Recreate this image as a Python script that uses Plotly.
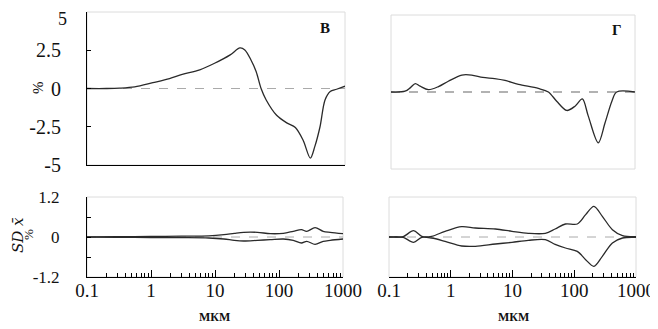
import plotly.graph_objects as go

# ---- data ----
x_v = [0.1, 0.2, 0.32, 0.55, 1.05, 1.9, 3.0, 5.6, 9.5, 16.6, 23.5, 28, 35, 42, 50, 60, 87, 125, 170, 225, 290, 340, 410, 490, 590, 740, 1000]
y_v = [0, 0, 0.02, 0.1, 0.38, 0.65, 0.92, 1.22, 1.65, 2.2, 2.65, 2.52, 1.85, 1.1, 0.0, -0.75, -1.75, -2.25, -2.55, -3.4, -4.55, -3.8, -2.5, -0.75, -0.2, -0.05, 0.15]

x_g = [0.1, 0.17, 0.21, 0.25, 0.3, 0.41, 0.6, 0.87, 1.45, 2.1, 3.2, 5.0, 7.4, 12.3, 26, 38, 52, 76, 104, 137, 171, 250, 323, 418, 500, 1000]
y_g = [0.0, 0.05, 0.3, 0.55, 0.38, 0.15, 0.35, 0.7, 1.1, 1.1, 0.95, 0.87, 0.75, 0.5, 0.23, 0.0, -0.6, -1.2, -0.92, -0.45, -1.55, -3.3, -2.0, -0.6, 0.0, 0.0]

x_sl = [0.1, 0.3, 1, 3, 8, 13.8, 20, 28, 46, 73, 117, 167, 224, 271, 366, 490, 630, 1000]
up_l = [0.005, 0.01, 0.015, 0.025, 0.035, 0.07, 0.11, 0.14, 0.14, 0.1, 0.11, 0.17, 0.22, 0.17, 0.28, 0.17, 0.14, 0.1]
lo_l = [-0.005, -0.01, -0.015, -0.02, -0.03, -0.06, -0.1, -0.12, -0.1, -0.08, -0.06, -0.1, -0.18, -0.13, -0.22, -0.13, -0.1, -0.06]

x_sr = [0.1, 0.13, 0.17, 0.25, 0.34, 0.49, 0.81, 1.5, 2.5, 5.3, 9.8, 18, 34, 49, 72, 112, 153, 208, 285, 415, 605, 1000]
up_r = [0, 0, 0.01, 0.19, 0.02, 0.02, 0.17, 0.31, 0.27, 0.24, 0.17, 0.11, 0.11, 0.24, 0.39, 0.39, 0.67, 0.92, 0.62, 0.22, 0.04, 0.01]
lo_r = [0, 0, -0.01, -0.16, -0.01, -0.03, -0.13, -0.27, -0.28, -0.21, -0.16, -0.1, -0.08, -0.22, -0.33, -0.43, -0.68, -0.88, -0.58, -0.18, -0.03, -0.01]

x_tickvals = [0.1, 1, 10, 100, 1000]
x_ticktext = ["0.1", "1", "10", "100", "1000"]
y_top_ticks = [-5, -2.5, 0, 2.5, 5]
y_top_text = ["-5", "-2.5", "0", "2.5", ""]   # the "5" is drawn as an annotation (near the page edge)
y_bot_ticks = [-1.2, -0.6, 0, 0.6, 1.2]
y_bot_text = ["-1.2", "", "0", "", "1.2"]
minor_vals = [m * 10 ** e for e in range(-1, 3) for m in range(2, 10)]

# page body has an 8px margin: figure is placed at (8, 8) in the 658x329 window
OFF = 8
W, H = 658 - OFF, 329 - OFF
def px_x(a, b):
    return [(a - OFF) / W, (b - OFF) / W]
def px_y(top, bot):
    return [1 - (bot - OFF) / H, 1 - (top - OFF) / H]
def fx(a):
    return (a - OFF) / W
def fy(a):
    return 1 - (a - OFF) / H

SERIF = "Liberation Serif"
TXT = "#111111"
LINE = dict(color="#2a2a2a", width=1.3, shape="spline", smoothing=0.9)

fig = go.Figure()
fig.add_trace(go.Scatter(x=x_v, y=y_v, mode="lines", line=LINE, xaxis="x", yaxis="y"))
fig.add_trace(go.Scatter(x=x_g, y=y_g, mode="lines", line=LINE, xaxis="x2", yaxis="y2"))
fig.add_trace(go.Scatter(x=x_sl, y=up_l, mode="lines", line=LINE, xaxis="x3", yaxis="y3"))
fig.add_trace(go.Scatter(x=x_sl, y=lo_l, mode="lines", line=LINE, xaxis="x3", yaxis="y3"))
fig.add_trace(go.Scatter(x=x_sr, y=up_r, mode="lines", line=LINE, xaxis="x4", yaxis="y4"))
fig.add_trace(go.Scatter(x=x_sr, y=lo_r, mode="lines", line=LINE, xaxis="x4", yaxis="y4"))

common_x = dict(type="log", range=[-1, 3], showgrid=False, zeroline=False, fixedrange=True, automargin=False)
common_y = dict(showgrid=False, zeroline=False, fixedrange=True, automargin=False)

bottom_x = dict(common_x, showline=True, linecolor="black", linewidth=1,
                tickmode="array", tickvals=x_tickvals, ticktext=x_ticktext,
                ticks="inside", ticklen=7, tickcolor="black", tickwidth=1,
                ticklabelstandoff=-4,
                tickfont=dict(family=SERIF, size=19, color=TXT),
                minor=dict(tickmode="array", tickvals=minor_vals, ticks="inside",
                           ticklen=4, tickcolor="black", tickwidth=1))

fig.update_layout(
    width=W, height=H, margin=dict(l=0, r=0, t=0, b=0, autoexpand=False),
    paper_bgcolor="white", plot_bgcolor="white", showlegend=False,
    xaxis=dict(common_x, domain=px_x(87, 345), anchor="y", showticklabels=False,
               showline=True, linecolor="black", linewidth=1, ticks=""),
    yaxis=dict(common_y, domain=px_y(12, 165), anchor="x", range=[-5, 5],
               showline=True, linecolor="black", linewidth=1,
               tickmode="array", tickvals=y_top_ticks, ticktext=y_top_text,
               ticks="inside", ticklen=4, tickcolor="black",
               ticklabelstandoff=21,
               tickfont=dict(family=SERIF, size=20, color=TXT)),
    xaxis2=dict(common_x, domain=px_x(391, 635), anchor="y2", showticklabels=False,
                showline=False, ticks=""),
    yaxis2=dict(common_y, domain=px_y(15, 169), anchor="x2", range=[-5, 5],
                showticklabels=False, showline=False, ticks=""),
    xaxis3=dict(bottom_x, domain=px_x(87, 343), anchor="y3"),
    yaxis3=dict(common_y, domain=px_y(197, 277), anchor="x3", range=[-1.2, 1.2],
                showline=True, linecolor="black", linewidth=1,
                tickmode="array", tickvals=y_bot_ticks, ticktext=y_bot_text,
                ticks="inside", ticklen=4, tickcolor="black",
                ticklabelstandoff=23,
                tickfont=dict(family=SERIF, size=17, color=TXT)),
    xaxis4=dict(bottom_x, domain=px_x(389, 636), anchor="y4"),
    yaxis4=dict(common_y, domain=px_y(197, 277), anchor="x4", range=[-1.2, 1.2],
                showticklabels=False, showline=False, ticks=""),
)

shapes = []
for xr, yr, dash_col, dw in [("x", "y", "#aaaaaa", 1), ("x2", "y2", "#999999", 1.6),
                             ("x3", "y3", "#aaaaaa", 1), ("x4", "y4", "#aaaaaa", 1)]:
    shapes.append(dict(type="rect", xref=xr + " domain", yref=yr + " domain",
                       x0=0, x1=1, y0=0, y1=1, layer="below",
                       line=dict(color="#dcdcdc", width=1)))
    shapes.append(dict(type="line", xref=xr + " domain", yref=yr, x0=0, x1=1, y0=0, y1=0,
                       layer="below", line=dict(color=dash_col, width=dw, dash="dash")))
fig.update_layout(shapes=shapes)

annotations = [
    dict(text="5", x=fx(62), y=fy(19), font=dict(family=SERIF, size=18, color=TXT)),
    dict(text="<b>В</b>", x=fx(325), y=fy(28), font=dict(family=SERIF, size=15, color=TXT)),
    dict(text="<b>Г</b>", x=fx(617), y=fy(30), font=dict(family=SERIF, size=15, color=TXT)),
    dict(text="%", x=fx(38), y=fy(88), textangle=-90,
         font=dict(family=SERIF, size=15, color=TXT)),
    dict(text="<i>SD x̄</i>", x=fx(18), y=fy(235), textangle=-90,
         font=dict(family="DejaVu Serif", size=15, color=TXT)),
    dict(text="%", x=fx(28), y=fy(235), textangle=-90,
         font=dict(family=SERIF, size=13, color=TXT)),
    dict(text="<b>МКМ</b>", x=fx(214), y=fy(317),
         font=dict(family=SERIF, size=12, color=TXT)),
    dict(text="<b>МКМ</b>", x=fx(513), y=fy(317),
         font=dict(family=SERIF, size=12, color=TXT)),
]
for a in annotations:
    a.update(xref="paper", yref="paper", showarrow=False, xanchor="center", yanchor="middle")
fig.update_layout(annotations=annotations)

fig.write_html("out.html")
